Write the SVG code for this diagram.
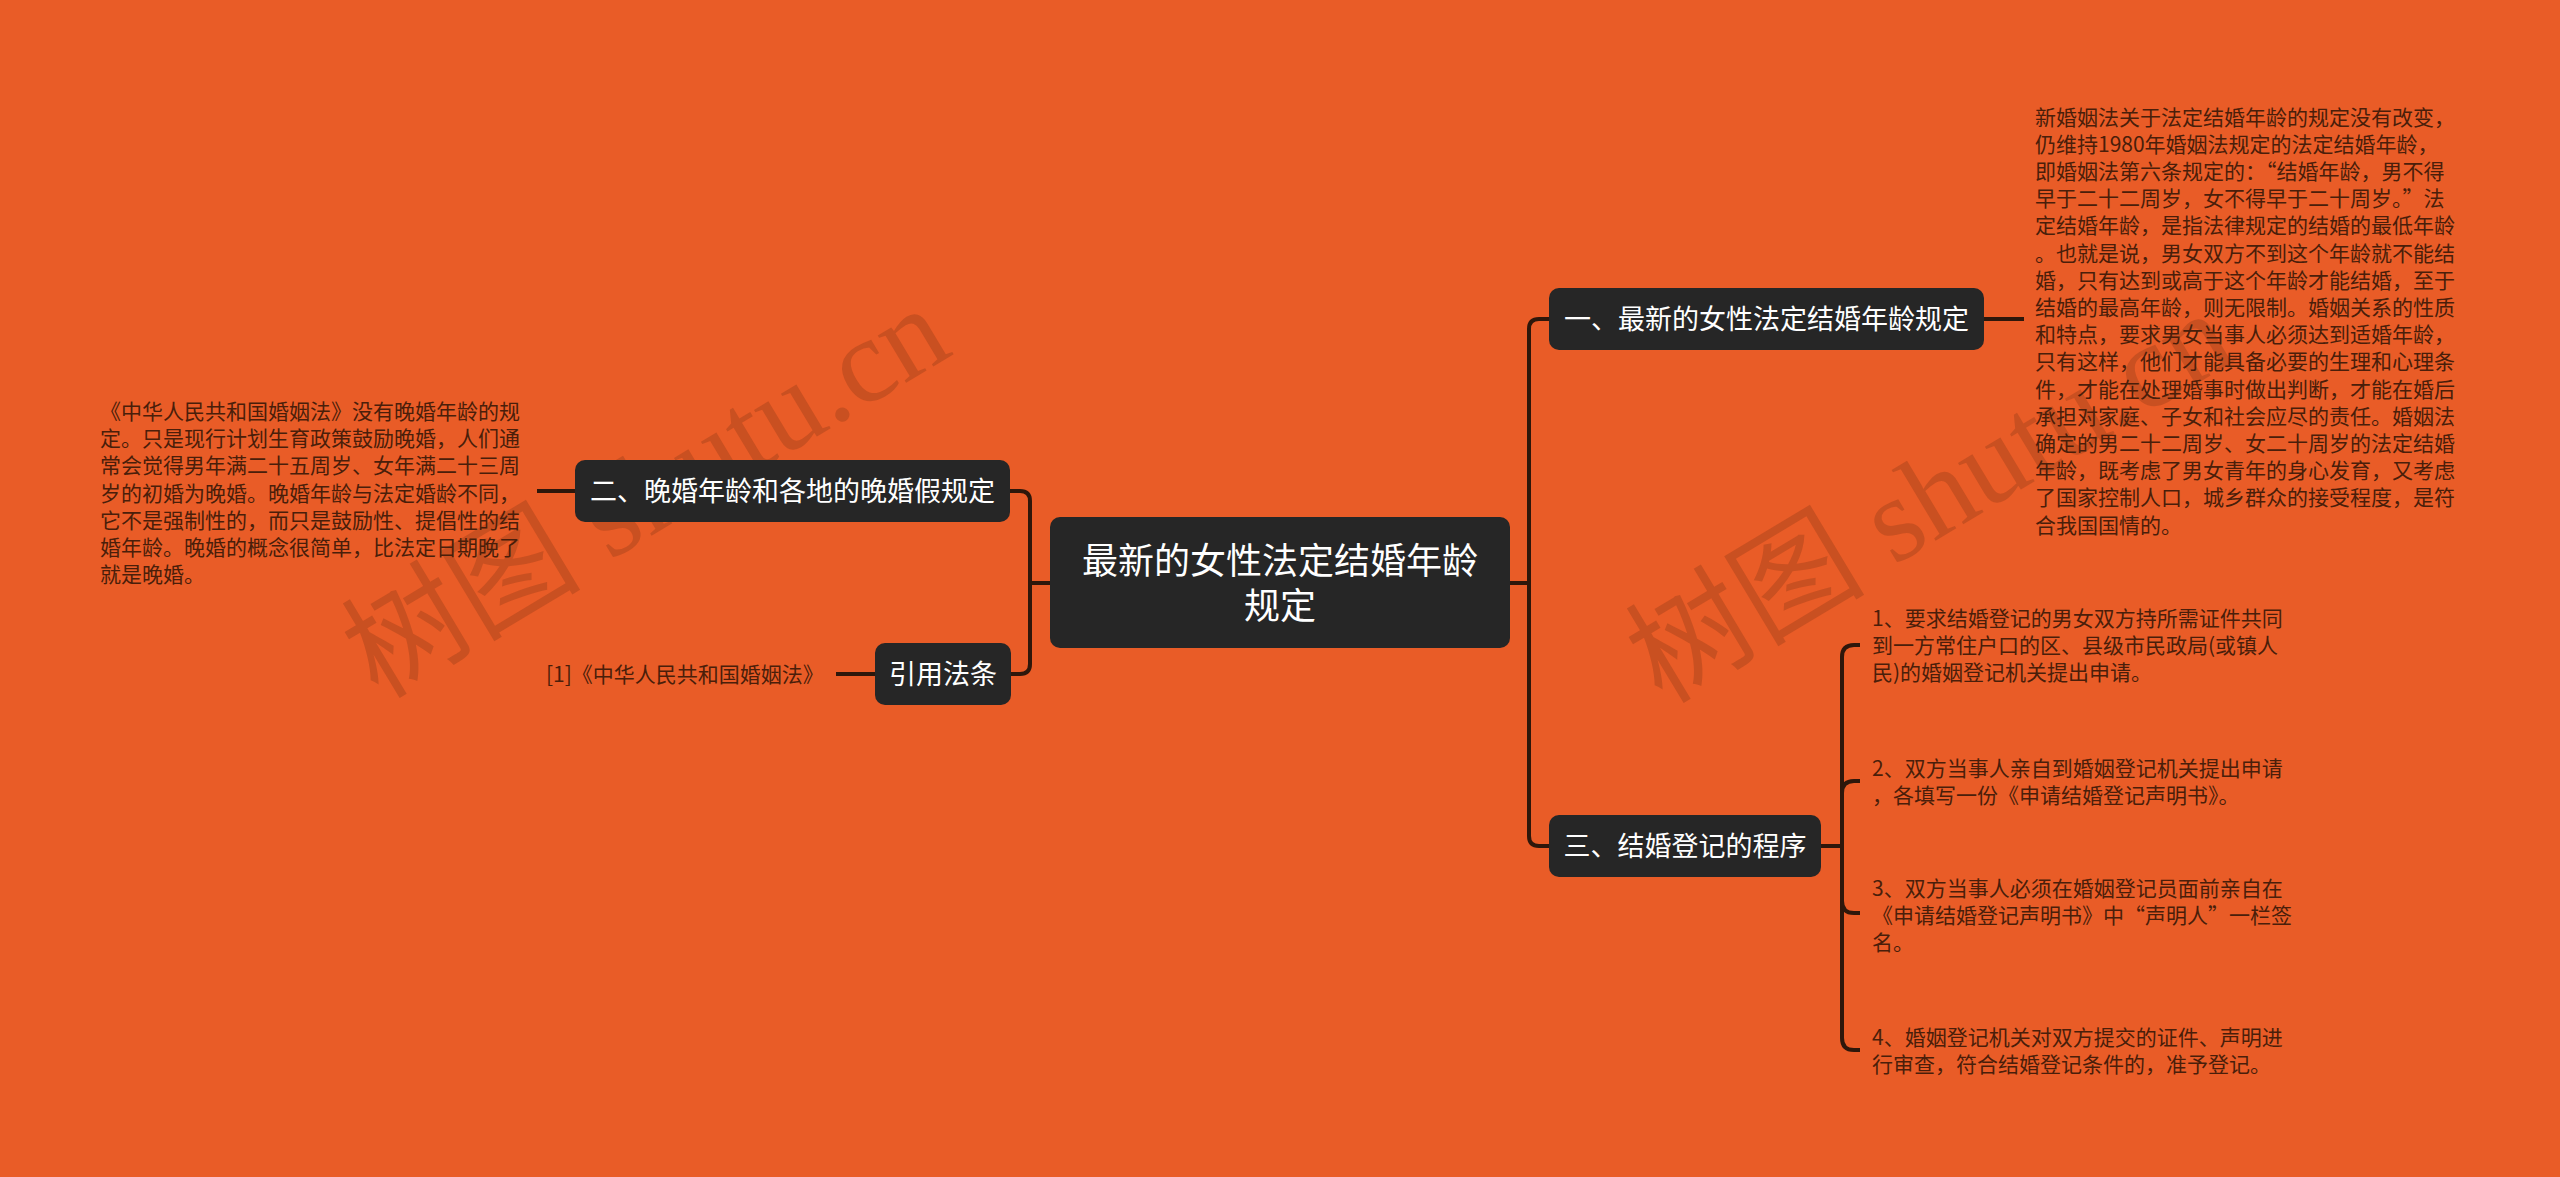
<svg xmlns="http://www.w3.org/2000/svg" width="2560" height="1177" viewBox="0 0 2560 1177">
<style>
.node rect{fill:#262626;}
.node text{fill:#ffffff;font-family:"Noto Sans CJK SC","Noto Sans",sans-serif;font-size:27px;text-anchor:middle;}
.body{fill:#4a1e0a;font-family:"Noto Sans CJK SC","Noto Sans",sans-serif;font-size:21px;}
.wm{fill:#6b2a10;fill-opacity:0.25;font-family:"Liberation Serif","Noto Sans CJK SC",serif;font-size:120px;}
#connectors path{fill:none;stroke:#2e170b;stroke-width:4;}
</style>
<rect x="0" y="0" width="2560" height="1177" fill="#E95C27"/>
<g id="watermarks">
<text class="wm" x="378" y="700" transform="rotate(-31 378 700)">树图 shutu.cn</text>
<text class="wm" x="1662" y="705" transform="rotate(-31 1662 705)">树图 shutu.cn</text>
</g>
<g id="connectors">
<path d="M1050,583 H1030"/>
<path d="M1010,491 H1020 Q1030,491 1030,501 V664 Q1030,674 1020,674 H1011"/>
<path d="M575,491 H537"/>
<path d="M875,674 H836"/>
<path d="M1510,583 H1529"/>
<path d="M1549,319 H1539 Q1529,319 1529,329 V836 Q1529,846 1539,846 H1549"/>
<path d="M1984,319 H2024"/>
<path d="M1821,846 H1842"/>
<path d="M1860,645 H1854 Q1842,645 1842,657 V1038 Q1842,1050 1854,1050 H1860"/>
<path d="M1842,793 Q1842,781 1854,781 H1860"/>
<path d="M1842,901 Q1842,913 1854,913 H1860"/>
</g>
<g id="node-center" class="node">
<rect x="1050" y="517" width="460" height="131" rx="10"/>
<text x="1280" y="574" style="font-size:36px">最新的女性法定结婚年龄</text>
<text x="1280" y="619" style="font-size:36px">规定</text>
</g>
<g id="node-2" class="node">
<rect x="575" y="460" width="435" height="62" rx="10"/>
<text x="792.5" y="501">二、晚婚年龄和各地的晚婚假规定</text>
</g>
<g id="node-law" class="node">
<rect x="875" y="643" width="136" height="62" rx="10"/>
<text x="943" y="684">引用法条</text>
</g>
<g id="node-1" class="node">
<rect x="1549" y="288" width="435" height="62" rx="10"/>
<text x="1766.5" y="329">一、最新的女性法定结婚年龄规定</text>
</g>
<g id="node-3" class="node">
<rect x="1549" y="815" width="272" height="62" rx="10"/>
<text x="1685" y="856">三、结婚登记的程序</text>
</g>
<g id="text-2">
<text class="body" x="100" y="419">《中华人民共和国婚姻法》没有晚婚年龄的规</text>
<text class="body" x="100" y="446.2">定。只是现行计划生育政策鼓励晚婚，人们通</text>
<text class="body" x="100" y="473.4">常会觉得男年满二十五周岁、女年满二十三周</text>
<text class="body" x="100" y="500.6">岁的初婚为晚婚。晚婚年龄与法定婚龄不同，</text>
<text class="body" x="100" y="527.8">它不是强制性的，而只是鼓励性、提倡性的结</text>
<text class="body" x="100" y="555">婚年龄。晚婚的概念很简单，比法定日期晚了</text>
<text class="body" x="100" y="582.2">就是晚婚。</text>
</g>
<g id="text-law">
<text class="body" x="546" y="682">[1]《中华人民共和国婚姻法》</text>
</g>
<g id="text-1">
<text class="body" x="2035" y="124.5">新婚姻法关于法定结婚年龄的规定没有改变，</text>
<text class="body" x="2035" y="151.7">仍维持1980年婚姻法规定的法定结婚年龄，</text>
<text class="body" x="2035" y="178.9">即婚姻法第六条规定的：“结婚年龄，男不得</text>
<text class="body" x="2035" y="206.1">早于二十二周岁，女不得早于二十周岁。”法</text>
<text class="body" x="2035" y="233.3">定结婚年龄，是指法律规定的结婚的最低年龄</text>
<text class="body" x="2035" y="260.5">。也就是说，男女双方不到这个年龄就不能结</text>
<text class="body" x="2035" y="287.7">婚，只有达到或高于这个年龄才能结婚，至于</text>
<text class="body" x="2035" y="314.9">结婚的最高年龄，则无限制。婚姻关系的性质</text>
<text class="body" x="2035" y="342.1">和特点，要求男女当事人必须达到适婚年龄，</text>
<text class="body" x="2035" y="369.3">只有这样，他们才能具备必要的生理和心理条</text>
<text class="body" x="2035" y="396.5">件，才能在处理婚事时做出判断，才能在婚后</text>
<text class="body" x="2035" y="423.7">承担对家庭、子女和社会应尽的责任。婚姻法</text>
<text class="body" x="2035" y="450.9">确定的男二十二周岁、女二十周岁的法定结婚</text>
<text class="body" x="2035" y="478.1">年龄，既考虑了男女青年的身心发育，又考虑</text>
<text class="body" x="2035" y="505.3">了国家控制人口，城乡群众的接受程度，是符</text>
<text class="body" x="2035" y="532.5">合我国国情的。</text>
</g>
<g id="text-3-1">
<text class="body" x="1872" y="626">1、要求结婚登记的男女双方持所需证件共同</text>
<text class="body" x="1872" y="653.2">到一方常住户口的区、县级市民政局(或镇人</text>
<text class="body" x="1872" y="680.4">民)的婚姻登记机关提出申请。</text>
</g>
<g id="text-3-2">
<text class="body" x="1872" y="775.5">2、双方当事人亲自到婚姻登记机关提出申请</text>
<text class="body" x="1872" y="802.7">，各填写一份《申请结婚登记声明书》。</text>
</g>
<g id="text-3-3">
<text class="body" x="1872" y="896">3、双方当事人必须在婚姻登记员面前亲自在</text>
<text class="body" x="1872" y="923.2">《申请结婚登记声明书》中“声明人”一栏签</text>
<text class="body" x="1872" y="950.4">名。</text>
</g>
<g id="text-3-4">
<text class="body" x="1872" y="1045">4、婚姻登记机关对双方提交的证件、声明进</text>
<text class="body" x="1872" y="1072.2">行审查，符合结婚登记条件的，准予登记。</text>
</g>
</svg>
